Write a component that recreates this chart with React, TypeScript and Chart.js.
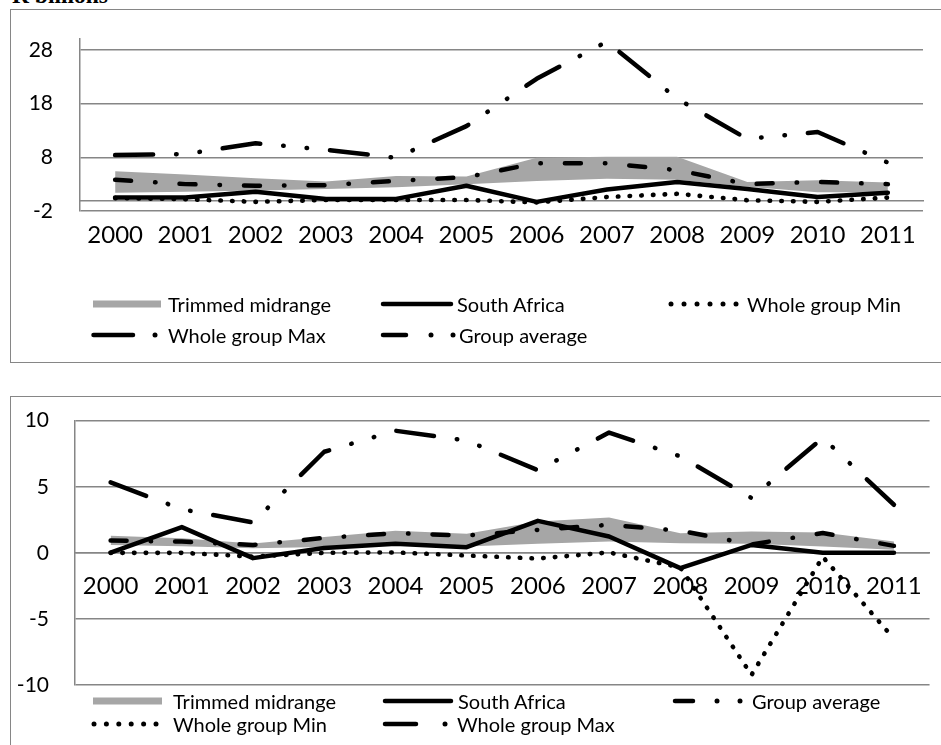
import React, { useEffect, useRef } from 'react';
import { Chart, registerables } from 'chart.js';

Chart.register(...registerables);

// ---------- data ----------
const years = ['2000', '2001', '2002', '2003', '2004', '2005', '2006', '2007', '2008', '2009', '2010', '2011'];

// Top panel (R billions)
const topTrimLow = [1.4, 1.6, 1.8, 2.1, 2.4, 3.0, 3.6, 4.0, 3.8, 2.5, 1.5, 1.5];
const topTrimHigh = [5.4, 4.8, 4.1, 3.5, 4.5, 4.4, 7.9, 8.1, 8.1, 3.4, 3.7, 3.3];
const topSouthAfrica = [0.5, 0.5, 1.6, 0.25, 0.25, 2.7, -0.3, 2.0, 3.4, 2.1, 0.6, 1.4];
const topGroupMin = [0.4, 0.2, -0.3, 0.05, 0.05, 0.05, -0.4, 0.6, 1.2, 0.0, -0.3, 0.5];
const topGroupMax = [8.4, 8.6, 10.6, 9.4, 7.9, 13.8, 22.6, 29.5, 18.9, 11.4, 12.7, 7.0];
const topGroupAvg = [3.8, 3.0, 2.7, 2.8, 3.6, 4.3, 6.9, 6.9, 5.6, 3.0, 3.4, 3.0];
const topYTicks = [-2, 8, 18, 28];
const topYMin = -2;
const topYMax = 30;

// Bottom panel
const botTrimLow = [0.6, 0.5, 0.35, 0.45, 0.68, 0.48, 0.68, 0.86, 0.73, 0.68, 0.48, 0.23];
const botTrimHigh = [1.3, 1.1, 0.7, 1.2, 1.67, 1.44, 2.37, 2.67, 1.49, 1.61, 1.54, 0.86];
const botSouthAfrica = [0.02, 1.95, -0.4, 0.36, 0.68, 0.43, 2.42, 1.24, -1.16, 0.6, 0.0, 0.0];
const botGroupMin = [0.0, 0.0, -0.28, 0.0, 0.03, -0.2, -0.43, 0.03, -1.1, -9.24, -0.3, -6.5];
const botGroupMax = [5.33, 3.3, 2.3, 7.65, 9.24, 8.5, 6.25, 9.1, 7.3, 4.15, 8.7, 3.64];
const botGroupAvg = [0.93, 0.85, 0.6, 1.13, 1.49, 1.31, 1.74, 2.12, 1.67, 0.64, 1.5, 0.53];
const botYTicks = [-10, -5, 0, 5, 10];
const botYMin = -10;
const botYMax = 10;

// series names
const NAME_TRIM = 'Trimmed midrange';
const NAME_SA = 'South Africa';
const NAME_MIN = 'Whole group Min';
const NAME_MAX = 'Whole group Max';
const NAME_AVG = 'Group average';

// ---------- styles ----------
const GRID = '#868686';
const BAND = '#a6a6a6';
const FONT = 'Lato';
const DASH_MIN = [0.5, 11.2];
const DASH_MAX = [38, 23, 0.5, 23, 0.5, 23];
const DASH_AVG = [16, 24, 0.5, 24];

function lineDs(label: string, data: number[], width: number, dash: number[], order: number) {
  return {
    label,
    data,
    borderColor: '#000',
    backgroundColor: '#000',
    borderWidth: width,
    borderDash: dash,
    borderCapStyle: 'round',
    borderJoinStyle: 'round',
    pointRadius: 0,
    pointHoverRadius: 0,
    fill: false,
    tension: 0,
    clip: false,
    order,
  };
}

type PanelProps = {
  top: number;
  height: number;
  padTop: number;
  padBottom: number;
  padRight: number;
  axisWidth: number;
  yPad: number;
  xPad: number;
  yMin: number;
  yMax: number;
  yTicks: number[];
  low: number[];
  high: number[];
  sa: number[];
  mn: number[];
  mx: number[];
  avg: number[];
};

function Panel(p: PanelProps) {
  const ref = useRef<HTMLCanvasElement>(null);
  useEffect(() => {
    const chart = new Chart(ref.current as HTMLCanvasElement, {
      type: 'line',
      data: {
        labels: years,
        datasets: [
          {
            label: 'low',
            data: p.low,
            borderWidth: 0,
            borderColor: 'rgba(0,0,0,0)',
            pointRadius: 0,
            fill: false,
            tension: 0,
            order: 10,
          } as any,
          {
            label: NAME_TRIM,
            data: p.high,
            borderWidth: 0,
            borderColor: 'rgba(0,0,0,0)',
            backgroundColor: BAND,
            pointRadius: 0,
            fill: '-1',
            tension: 0,
            order: 9,
          } as any,
          lineDs(NAME_MIN, p.mn, 4.6, DASH_MIN, 3) as any,
          lineDs(NAME_AVG, p.avg, 4.5, DASH_AVG, 2) as any,
          lineDs(NAME_MAX, p.mx, 4.5, DASH_MAX, 1) as any,
          lineDs(NAME_SA, p.sa, 4.5, [], 0) as any,
        ],
      },
      options: {
        animation: false,
        responsive: false,
        maintainAspectRatio: false,
        devicePixelRatio: 1,
        events: [],
        layout: { padding: { left: 0, right: p.padRight, top: p.padTop, bottom: p.padBottom } },
        plugins: {
          legend: { display: false },
          tooltip: { enabled: false },
          filler: { drawTime: 'beforeDatasetsDraw' },
        } as any,
        scales: {
          x: {
            type: 'category',
            position: { y: 0 } as any,
            offset: true,
            grid: { display: false, drawTicks: false },
            border: { display: true, color: GRID, width: 1.5 },
            ticks: {
              color: '#000',
              font: { family: FONT, size: 24 },
              padding: p.xPad,
              maxRotation: 0,
              minRotation: 0,
              autoSkip: false,
            },
          },
          y: {
            type: 'linear',
            min: p.yMin,
            max: p.yMax,
            afterBuildTicks: (s: any) => {
              s.ticks = p.yTicks.map((v) => ({ value: v }));
            },
            afterFit: (s: any) => {
              s.width = p.axisWidth;
              s.paddingTop = 0;
              s.paddingBottom = 0;
            },
            grid: { color: GRID, lineWidth: 1.5, drawTicks: false },
            border: { display: true, color: GRID, width: 1.5 },
            ticks: {
              color: '#000',
              font: { family: FONT, size: 21 },
              padding: p.yPad,
            },
          },
        },
      } as any,
    });
    return () => chart.destroy();
  }, []);
  return (
    <canvas
      ref={ref}
      width={941}
      height={p.height}
      style={{ position: 'absolute', left: 0, top: p.top, width: 941, height: p.height, display: 'block' }}
    />
  );
}

// ---------- legend ----------
const LEG_FONT = 20;

function LegendText({ x, y, text }: { x: number; y: number; text: string }) {
  return (
    <span
      style={{
        position: 'absolute',
        left: x,
        top: y - 12.5,
        fontFamily: FONT,
        fontSize: LEG_FONT,
        lineHeight: '24px',
        color: '#000',
        whiteSpace: 'nowrap',
      }}
    >
      {text}
    </span>
  );
}

function Dots({ x0, x1, n, y }: { x0: number; x1: number; n: number; y: number }) {
  const items = [];
  for (let i = 0; i < n; i++) {
    const cx = x0 + ((x1 - x0) * i) / (n - 1);
    items.push(<circle key={i} cx={cx} cy={y} r={2.5} fill="#000" />);
  }
  return <g>{items}</g>;
}

function Seg({ x0, x1, y }: { x0: number; x1: number; y: number }) {
  return <line x1={x0} y1={y} x2={x1} y2={y} stroke="#000" strokeWidth={4.5} strokeLinecap="round" />;
}

function Dot({ x, y }: { x: number; y: number }) {
  return <circle cx={x} cy={y} r={2.5} fill="#000" />;
}

export default function App() {
  const tR1 = 304;
  const tR2 = 335;
  const bR1 = 701;
  const bR2 = 724;
  return (
    <div
      style={{
        position: 'fixed',
        left: 0,
        top: 0,
        width: 941,
        height: 745,
        overflow: 'hidden',
        background: '#fff',
      }}
    >
      {/* chart boxes */}
      <div
        style={{
          position: 'absolute',
          left: 10,
          top: 8.75,
          width: 960,
          height: 354,
          border: `1.5px solid ${GRID}`,
          boxSizing: 'border-box',
        }}
      />
      <div
        style={{
          position: 'absolute',
          left: 10,
          top: 396.25,
          width: 960,
          height: 500,
          border: `1.5px solid ${GRID}`,
          boxSizing: 'border-box',
        }}
      />
      <span
        style={{
          position: 'absolute',
          left: 12,
          top: -15.7,
          fontFamily: '"Liberation Serif", "Times New Roman", serif',
          fontWeight: 'bold',
          fontSize: 23.5,
          lineHeight: 1,
          whiteSpace: 'nowrap',
        }}
      >
        R billions
      </span>

      <Panel
        top={0}
        height={260}
        padTop={39}
        padBottom={49}
        padRight={18}
        axisWidth={80}
        yPad={27}
        xPad={21}
        yMin={topYMin}
        yMax={topYMax}
        yTicks={topYTicks}
        low={topTrimLow}
        high={topTrimHigh}
        sa={topSouthAfrica}
        mn={topGroupMin}
        mx={topGroupMax}
        avg={topGroupAvg}
      />
      <Panel
        top={400}
        height={345}
        padTop={20.7}
        padBottom={60}
        padRight={5}
        axisWidth={75}
        yPad={26}
        xPad={19}
        yMin={botYMin}
        yMax={botYMax}
        yTicks={botYTicks}
        low={botTrimLow}
        high={botTrimHigh}
        sa={botSouthAfrica}
        mn={botGroupMin}
        mx={botGroupMax}
        avg={botGroupAvg}
      />

      {/* legend swatches */}
      <svg
        width={941}
        height={745}
        style={{ position: 'absolute', left: 0, top: 0, pointerEvents: 'none' }}
      >
        {/* top legend */}
        <rect x={93} y={tR1 - 3.5} width={68} height={7} fill={BAND} />
        <Seg x0={383} x1={451} y={tR1} />
        <Dots x0={671} x1={736} n={6} y={tR1} />
        <Seg x0={93.5} x1={133} y={tR2} />
        <Dot x={155} y={tR2} />
        <Seg x0={383} x1={406} y={tR2} />
        <Dot x={431} y={tR2} />
        <Dot x={453} y={tR2} />
        {/* bottom legend */}
        <rect x={93} y={bR1 - 3.5} width={69} height={7} fill={BAND} />
        <Seg x0={385} x1={451} y={bR1} />
        <Seg x0={675} x1={693} y={bR1} />
        <Dot x={717} y={bR1} />
        <Dot x={740} y={bR1} />
        <Dots x0={94} x1={156} n={6} y={bR2} />
        <Seg x0={385} x1={416} y={bR2} />
        <Dot x={445} y={bR2} />
      </svg>

      <LegendText x={168} y={tR1} text={NAME_TRIM} />
      <LegendText x={457} y={tR1} text={NAME_SA} />
      <LegendText x={747} y={tR1} text={NAME_MIN} />
      <LegendText x={168} y={tR2} text={NAME_MAX} />
      <LegendText x={459} y={tR2} text={NAME_AVG} />

      <LegendText x={173} y={bR1} text={NAME_TRIM} />
      <LegendText x={458} y={bR1} text={NAME_SA} />
      <LegendText x={752} y={bR1} text={NAME_AVG} />
      <LegendText x={173} y={bR2} text={NAME_MIN} />
      <LegendText x={457} y={bR2} text={NAME_MAX} />
    </div>
  );
}
